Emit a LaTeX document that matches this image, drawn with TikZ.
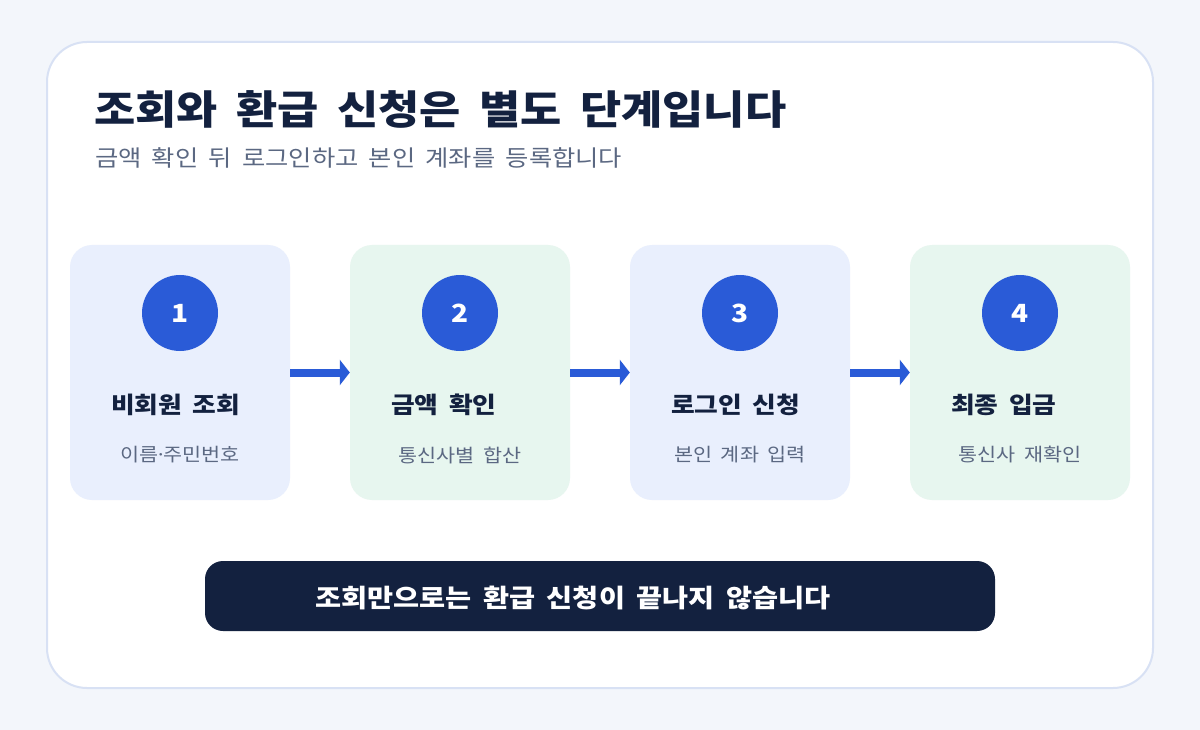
\documentclass[tikz,border=0pt]{standalone}
\usepackage{fontspec}
\setmainfont{Noto Sans CJK KR}[FakeStretch=1.12,WordSpace=1.8]
\usetikzlibrary{arrows.meta}

\definecolor{pagebg}{HTML}{F3F6FB}
\definecolor{cardline}{HTML}{D8E1F4}
\definecolor{ink}{HTML}{13213F}
\definecolor{muted}{HTML}{5B6882}
\definecolor{stepblue}{HTML}{E9EFFD}
\definecolor{stepgreen}{HTML}{E7F6EF}
\definecolor{accent}{HTML}{2A5BD7}

\tikzset{
  stepcard/.style={rectangle,rounded corners=22pt,minimum width=220pt,minimum height=255pt,inner sep=0pt},
  badge/.style={circle,fill=accent,minimum size=76pt,inner sep=0pt,text=white,font=\fontsize{25}{30}\selectfont\bfseries},
  steptitle/.style={anchor=west,inner sep=0pt,text=ink,font=\fontsize{23}{28}\selectfont\bfseries},
  stepnote/.style={text=muted,font=\fontsize{18.5}{23}\selectfont},
  flow/.style={accent,line width=8pt,-{Triangle[length=10pt,width=25pt]}}
}

\begin{document}
\begin{tikzpicture}[x=1pt,y=-1pt]
  % page and frame
  \fill[pagebg] (0,0) rectangle (1200,730);
  \useasboundingbox (0,0) rectangle (1200,730);
  \draw[cardline,line width=2pt,fill=white,rounded corners=40pt] (47,42) rectangle (1153,688);

  % heading
  \node[anchor=base west,inner sep=0pt,text=ink,font=\fontsize{40}{48}\selectfont\bfseries] (head) at (94,125) {조회와 환급 신청은 별도 단계입니다};
  \node[anchor=base west,inner sep=0pt,text=muted,font=\fontsize{22.6}{28}\selectfont] (sub) at (95,167) {금액 확인 뒤 로그인하고 본인 계좌를 등록합니다};

  % steps
  \foreach \i/\cx/\col/\name/\note in {1/180/stepblue/비회원 조회/이름\kern-3.5pt·\kern-3.5pt주민번호,
                                       2/460/stepgreen/금액 확인/통신사별 합산,
                                       3/740/stepblue/로그인 신청/본인 계좌 입력,
                                       4/1020/stepgreen/최종 입금/통신사 재확인} {
    \node[stepcard,fill=\col] (s\i) at (\cx,372.5) {};
    \node[badge] (b\i) at (\cx,313) {\i};
    \node[steptitle] (t\i) at (\cx-69,405) {\name};
    \node[stepnote] (n\i) at (\cx,455) {\note};
  }

  % arrows between steps
  \foreach \a/\b in {1/2,2/3,3/4}
    \draw[flow] (s\a.east) -- (s\b.west);

  % bottom note
  \node[rectangle,rounded corners=18pt,fill=ink,minimum width=790pt,minimum height=70pt] (bar) at (600,596) {};
  \node[text=white,font=\fontsize{25.3}{30}\selectfont\bfseries] (barnote) at (573,598) {조회만으로는 환급 신청이 끝나지 않습니다};
\end{tikzpicture}
\end{document}
